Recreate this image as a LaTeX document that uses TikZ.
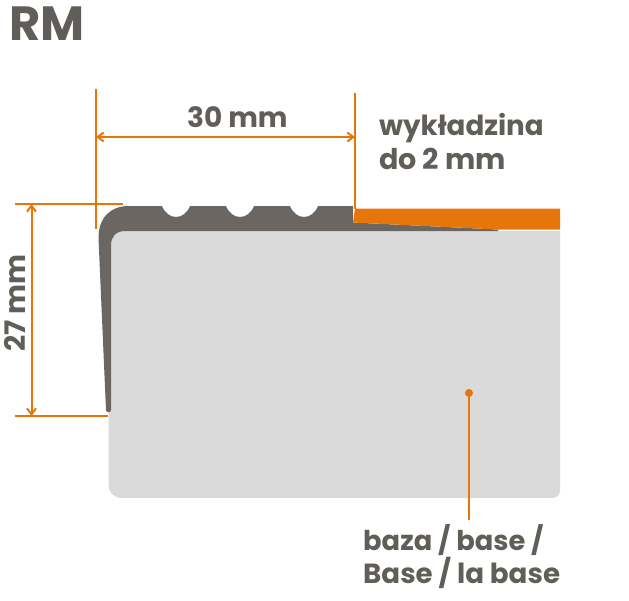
\documentclass[tikz,border=0pt]{standalone}
\usepackage{fontspec}
\setmainfont{Poppins}
\usetikzlibrary{arrows.meta}
\definecolor{txtgray}{HTML}{615D59}
\definecolor{profgray}{HTML}{6B6662}
\definecolor{orng}{HTML}{E8750A}
\definecolor{basegray}{HTML}{DADADA}
\tikzset{
  dimline/.style={draw=orng,line width=2pt},
  dimarrow/.style={dimline,{Straight Barb[length=6pt,width=9pt]}-{Straight Barb[length=6pt,width=9pt]}},
  lab/.style={text=txtgray,font=\bfseries\fontsize{#1}{#1}\selectfont,inner sep=0pt,anchor=base west},
}
\begin{document}
\begin{tikzpicture}[x=1pt,y=-1pt]
\useasboundingbox (0,0) rectangle (629,600);
% base
\fill[basegray] (122,231) -- (560,231) -- (560,490)
  .. controls (560,495) and (557,498) .. (552,498) -- (122,498)
  .. controls (114,498) and (108.5,492) .. (108.5,485) -- (108.5,245)
  .. controls (108.5,237) and (114,231) .. (122,231) -- cycle;
% profile
\fill[profgray] (98.5,238) .. controls (98.5,218) and (110,206) .. (129,206) -- (162,206)
  .. controls (165,213) and (170,217) .. (176,217) .. controls (182,217) and (187,213) .. (190,206)
  -- (226,206) .. controls (229,213) and (234,217) .. (240,217) .. controls (246,217) and (251,213) .. (254,206)
  -- (290,206) .. controls (293,213) and (298,217) .. (304,217) .. controls (310,217) and (315,213) .. (318,206)
  -- (353,206) -- (353,222.5) -- (498,229.5) -- (498,231) -- (125,231)
  .. controls (116,231) and (111,237) .. (111,245) -- (111,410) .. controls (111,413) and (106,413) .. (106,410) -- cycle;
% carpet
\fill[orng] (355,208.5) -- (560,208.5) -- (560,229.5) -- (498,229.5) -- (353,222.5) -- cycle;
% dimension helpers
\coordinate (la) at (96,89);  \coordinate (lb) at (96,229);
\coordinate (ra) at (355,93); \coordinate (rb) at (355,209);
\coordinate (ha) at (96,137); \coordinate (hb) at (355,137);
\coordinate (ta) at (15,204); \coordinate (tb) at (123,204);
\coordinate (ba) at (15,416); \coordinate (bb) at (108,416);
\coordinate (va) at (31.5,204); \coordinate (vb) at (31.5,416);
\coordinate (dotp) at (469,393); \coordinate (leadend) at (469,520);
\draw[dimline] (la) -- (lb);
\draw[dimline] (ra) -- (rb);
\draw[dimline] (ta) -- (tb);
\draw[dimline] (ba) -- (bb);
\draw[dimarrow] (ha) -- (hb);
\draw[dimarrow] (va) -- (vb);
\fill[orng] (dotp) circle[radius=4];
\draw[dimline] (dotp) -- (leadend);
% labels
\node[lab=48] (rm) at (9,40) {RM};
\node[lab=28] (w30) at (187,127) {30 mm};
\node[lab=27.7] (wyk) at (379,135) {wykładzina};
\node[lab=28.6] (do2) at (379,169) {do 2 mm};
\node[lab=28.3,rotate=90] (w27) at (25,352) {27 mm};
\node[lab=27.3] (baza) at (363,550) {baza / base /};
\node[lab=27.7] (bas2) at (363,583) {Base / la base};
\end{tikzpicture}
\end{document}
